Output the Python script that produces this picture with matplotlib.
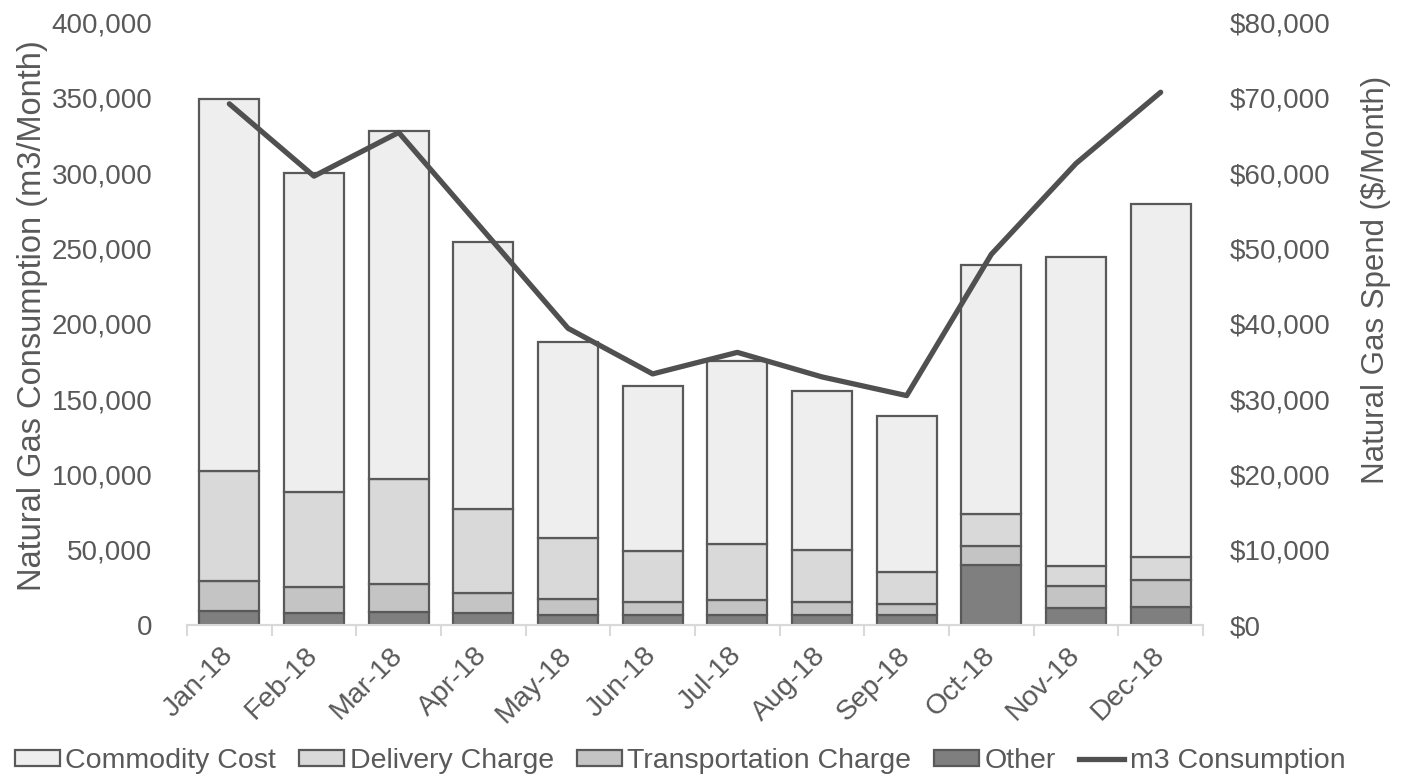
import numpy as np
import matplotlib.pyplot as plt
from matplotlib.lines import Line2D
from matplotlib.patches import Patch

plt.rcParams['font.family'] = ['Liberation Sans', 'DejaVu Sans']

months = ['Jan-18', 'Feb-18', 'Mar-18', 'Apr-18', 'May-18', 'Jun-18',
          'Jul-18', 'Aug-18', 'Sep-18', 'Oct-18', 'Nov-18', 'Dec-18']

# monthly spend components ($/month)
other = [1900, 1600, 1750, 1600, 1300, 1300, 1300, 1300, 1300, 8000, 2200, 2400]
transportation = [4000, 3500, 3750, 2700, 2100, 1700, 2000, 1700, 1500, 2500, 3000, 3600]
delivery = [14500, 12500, 13850, 11100, 8200, 6800, 7500, 7000, 4300, 4300, 2600, 3000]
commodity = [49500, 42400, 46250, 35500, 26000, 21900, 24200, 21100, 20700, 33000, 41000, 46900]

# monthly consumption (m3/month)
consumption = [346000, 298000, 327000, 262000, 197000, 166700,
               181000, 164700, 152300, 246100, 306400, 353700]

text_col = '#595959'
edge_col = '#595959'
tick_fs = 20
W, H = 1407, 777

fig = plt.figure(figsize=(W / 100, H / 100), dpi=100)
ax = fig.add_axes([187 / W, 1 - 625 / H, 1016 / W, 602.5 / H])
ax2 = ax.twinx()

x = np.arange(len(months))
w = 0.71
bottom = np.zeros(len(months))
layers = [
    (other, '#7f7f7f', 'Other'),
    (transportation, '#c4c4c4', 'Transportation Charge'),
    (delivery, '#d9d9d9', 'Delivery Charge'),
    (commodity, '#eeeeee', 'Commodity Cost'),
]
for vals, col, name in layers:
    ax2.bar(x, vals, w, bottom=bottom, color=col, edgecolor=edge_col,
            linewidth=1.6, label=name)
    bottom += np.array(vals)

ax.plot(x, consumption, color='#505050', linewidth=3.8,
        solid_capstyle='round', label='m3 Consumption')

# keep the consumption line above the bars
ax.set_zorder(ax2.get_zorder() + 1)
ax.patch.set_visible(False)

ax.set_xlim(-0.5, len(months) - 0.5)
ax.set_ylim(0, 400000)
ax2.set_ylim(0, 80000)
ax.set_yticks(np.arange(0, 400001, 50000))
ax2.set_yticks(np.arange(0, 80001, 10000))
ax.set_yticklabels([f'{v:,}' for v in range(0, 400001, 50000)])
ax2.set_yticklabels([f'${v:,}' for v in range(0, 80001, 10000)])

for a in (ax, ax2):
    for s in ('top', 'left', 'right'):
        a.spines[s].set_visible(False)
    a.spines['bottom'].set_color('#d9d9d9')
    a.spines['bottom'].set_linewidth(1.5)
ax.tick_params(axis='y', length=0, pad=25, labelsize=tick_fs, labelcolor=text_col)
ax2.tick_params(axis='y', length=0, pad=19, labelsize=tick_fs, labelcolor=text_col)

# category ticks sit on the boundaries, labels at the centres
ax.set_xticks(np.arange(-0.5, len(months), 1.0))
ax.set_xticklabels([])
ax.tick_params(axis='x', which='major', direction='out', length=8,
               width=1.5, color='#d9d9d9')
ax.set_xticks(x, minor=True)
ax.set_xticklabels(months, minor=True, rotation=45, ha='right', va='center',
                   rotation_mode='anchor', fontsize=20.5, color=text_col)
ax.tick_params(axis='x', which='minor', length=0, pad=19)
ax2.tick_params(axis='x', which='both', length=0)

fig.text(33 / W, 1 - 316 / H, 'Natural Gas Consumption (m3/Month)',
         rotation=90, ha='center', va='center', fontsize=23.5, color=text_col)
fig.text(1376 / W, 1 - 280 / H, 'Natural Gas Spend ($/Month)',
         rotation=90, ha='center', va='center', fontsize=22.5, color=text_col)

handles = [Patch(facecolor=c, edgecolor=edge_col, linewidth=1.6, label=n)
           for _, c, n in reversed(layers)]
handles.append(Line2D([], [], color='#505050', linewidth=3.8,
                      label='m3 Consumption'))
leg = fig.legend(handles=handles, loc='center', ncol=5,
                 bbox_to_anchor=(680 / W, 1 - 761 / H), frameon=False,
                 fontsize=20.5, handlelength=1.58, handleheight=0.5,
                 handletextpad=0.2, columnspacing=0.8, borderpad=0)
for t in leg.get_texts():
    t.set_color(text_col)

fig.savefig('out.png', dpi=100)
